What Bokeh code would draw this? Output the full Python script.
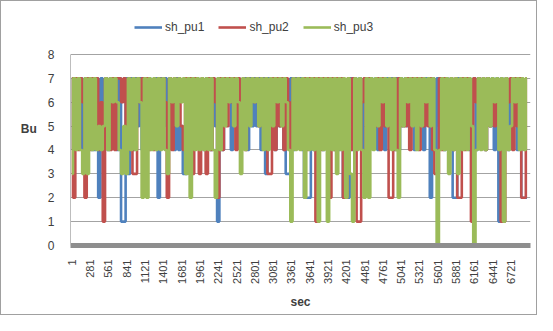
import math
from bokeh.plotting import figure
from bokeh.models import FixedTicker, Legend, LegendItem, ColumnDataSource
from bokeh.embed import file_html
from bokeh.resources import INLINE

sample_step = 35
sh_pu1 = ("7465747564" "4727574757" "4711737475" "7474756727" "5747647453"
          "3747574647" "7475174767" "4757467475" "7574737574" "7574337475"
          "7422274757" "4757647472" "2274757467" "4757467475" "7474757565"
          "4757476274" "7574767227" "4757467475" "7475747175" "7465747222")
sh_pu2 = ("7274762747" "5746176474" "7767574337" "6767454576" "7627476754"
          "7673763763" "7476274757" "6747574767" "6757673374" "7574764757"
          "5674757174" "7572747672" "2747511674" "7565747562" "2747565747"
          "6747565743" "3747647472" "2747517676" "7475656511" "7674757227")
sh_pu3 = ("3747437374" "7454574767" "6435374747" "6272747474" "7437675767"
          "3727474747" "4742747576" "7576374757" "6757474757" "6757641747"
          "4727474717" "4717473747" "2731747427" "2747576757" "4742757675"
          "7475767574" "0474737473" "7474750474" "7475767471" "7457674747")
series_names = ["sh_pu1", "sh_pu2", "sh_pu3"]
series_values = [[int(c) for c in s] for s in (sh_pu1, sh_pu2, sh_pu3)]
series_colors = ["#4F81BD", "#C0504D", "#9BBB59"]
y_ticks = [0, 1, 2, 3, 4, 5, 6, 7, 8]
tick_labels = ["1", "281", "561", "841", "1121", "1401", "1681", "1961", "2241",
               "2521", "2801", "3081", "3361", "3641", "3921", "4201", "4481",
               "4761", "5041", "5321", "5601", "5881", "6161", "6441", "6721"]
tick_positions = [int(t) for t in tick_labels]

# frame extends above 8 so the legend can sit in the top band
p = figure(width=537, height=315, x_range=(-20, 7020), y_range=(0, 9.8),
           output_backend="svg", toolbar_location=None,
           min_border_left=69, min_border_right=8, min_border_top=10,
           min_border_bottom=71, background_fill_color="white",
           border_fill_color="white", outline_line_color=None,
           styles={"border": "1px solid #a0a0a0", "box-sizing": "border-box"})

renderers = []
for name, vals, col in zip(series_names, series_values, series_colors):
    xs = [1 + i * sample_step for i in range(len(vals))]
    src = ColumnDataSource(dict(x=xs, y=vals))
    r = p.step("x", "y", source=src, mode="center", line_color=col, line_width=2.6)
    renderers.append(r)

legend = Legend(items=[LegendItem(label=n, renderers=[r]) for n, r in zip(series_names, renderers)],
                location=(64, 211), orientation="horizontal",
                glyph_width=28, glyph_height=12, label_standoff=3, spacing=14,
                padding=4, margin=0, border_line_color=None,
                background_fill_alpha=0,
                label_text_font="Liberation Sans", label_text_font_size="12px",
                label_text_color="#404040")
p.add_layout(legend, "center")

# grid
p.xgrid.grid_line_color = None
p.ygrid.ticker = FixedTicker(ticks=y_ticks)
p.ygrid.grid_line_color = "#a3a3a3"
p.ygrid.grid_line_width = 1

# y axis
p.yaxis.ticker = FixedTicker(ticks=y_ticks)
p.yaxis.bounds = (0, 8)
p.yaxis.axis_label = "Bu"
p.yaxis.axis_label_orientation = "horizontal"
p.yaxis.axis_label_text_font = "Liberation Sans"
p.yaxis.axis_label_text_font_size = "12px"
p.yaxis.axis_label_text_font_style = "bold"
p.yaxis.axis_label_text_color = "#404040"
p.yaxis.axis_label_standoff = 8
p.yaxis.major_label_text_font = "Liberation Sans"
p.yaxis.major_label_text_font_size = "12px"
p.yaxis.major_label_text_color = "#404040"
p.yaxis.major_label_standoff = 10
p.yaxis.major_tick_line_color = None
p.yaxis.minor_tick_line_color = None
p.yaxis.axis_line_color = "#bdbdbd"

# x axis
p.xaxis.ticker = FixedTicker(ticks=tick_positions)
p.xaxis.major_label_overrides = {t: l for t, l in zip(tick_positions, tick_labels)}
p.xaxis.major_label_orientation = math.pi / 2
p.xaxis.major_label_text_font = "Liberation Sans"
p.xaxis.major_label_text_font_size = "11px"
p.xaxis.major_label_text_color = "#404040"
p.xaxis.major_label_standoff = 8
p.xaxis.major_tick_line_color = None
p.xaxis.minor_tick_line_color = None
p.xaxis.axis_line_color = "#8e8e8e"
p.xaxis.axis_line_width = 5
p.xaxis.axis_label = "sec"
p.xaxis.axis_label_text_font = "Liberation Sans"
p.xaxis.axis_label_text_font_size = "12px"
p.xaxis.axis_label_text_font_style = "bold"
p.xaxis.axis_label_text_color = "#404040"
p.xaxis.axis_label_standoff = 8

open("out.html", "w").write(file_html(p, INLINE))
